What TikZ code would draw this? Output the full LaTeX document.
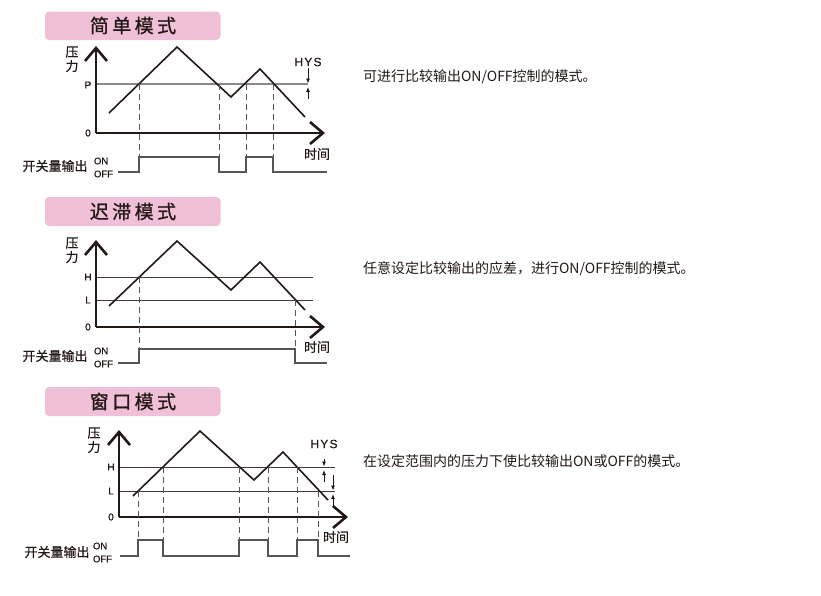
\documentclass[tikz,border=0pt]{standalone}
\usepackage{fontspec}
\setmainfont{Liberation Sans}
\newfontfamily\cjk{Noto Sans CJK SC}
\newfontfamily\cjkb[FakeBold=0.5]{Noto Sans CJK SC}
\newfontfamily\titlefont[LetterSpace=18,FakeBold=1]{Noto Sans CJK SC}
\newfontfamily\hysfont[LetterSpace=10,FakeBold=0.4]{Liberation Sans}
\newfontfamily\lblfont[FakeBold=0.6]{Liberation Sans}
\usetikzlibrary{arrows.meta}
\definecolor{ink}{HTML}{231815}
\definecolor{pinkbox}{HTML}{F0BFD8}
\definecolor{refgray}{HTML}{8A8A8A}
\definecolor{dashgray}{HTML}{555555}
\definecolor{siggray}{HTML}{555555}
\tikzset{
  every node/.style={inner sep=0pt, outer sep=0pt, text=ink},
  titlebox/.style={fill=pinkbox, rounded corners=4pt, draw=none},
  titletext/.style={font=\titlefont\fontsize{19}{21}\selectfont},
  axisline/.style={line width=2pt, draw=ink, -{Straight Barb[length=13pt,width=22pt,line width=2.6pt]}},
  wave/.style={line width=1.6pt, draw=ink, line join=miter},
  pline/.style={line width=1.3pt, draw=refgray},
  hlline/.style={line width=0.9pt, draw=ink!85},
  dashline/.style={line width=1pt, draw=dashgray, dash pattern=on 6pt off 4pt},
  sigline/.style={line width=1.3pt, draw=siggray},
  lvl/.style={font=\lblfont\fontsize{10}{11}\selectfont},
  cjklabel/.style={font=\cjkb\fontsize{13}{14}\selectfont},
  onoff/.style={font=\lblfont\fontsize{9.5}{10}\selectfont, anchor=west},
  desc/.style={font=\cjk\fontsize{14}{16}\selectfont, anchor=west},
  hys/.style={font=\hysfont\fontsize{12}{13}\selectfont},
  hysarrow/.style={line width=0.8pt, draw=ink, -{Latex[length=5pt,width=4pt]}}
}
\begin{document}
\begin{tikzpicture}[x=1pt,y=-1pt]
\useasboundingbox (0,0) rectangle (821,595);

% ================= Panel 1 =================
\path[titlebox] (45,11.5) rectangle (220.5,40);
\node[titletext] (t1) at (133,25.5) {简单模式};

\coordinate (o1) at (96,133);
\coordinate (ya1) at (96,46);
\coordinate (xa1) at (325,133);
\draw[pline] (96,84) -- (308,84);
\draw[axisline] (o1) -- (ya1);
\draw[axisline] (o1) -- (xa1);

\coordinate (a1) at (109,113);
\coordinate (b1) at (177,47);
\coordinate (c1) at (231,97);
\coordinate (d1) at (260,69);
\coordinate (e1) at (305,117);
\draw[wave] (a1) -- (b1) -- (c1) -- (d1) -- (e1);

\node[lvl] (p1) at (88,85) {P};
\node[lvl] (z1) at (88,133) {0};
\node[cjklabel] (ya1a) at (72,52) {压};
\node[cjklabel] (ya1b) at (72,66) {力};
\node[cjklabel] (tm1) at (317,154) {时间};
\node[cjklabel] (out1) at (55,166) {开关量输出};
\node[onoff] (on1) at (94,161) {ON};
\node[onoff] (off1) at (94,174) {OFF};
\node[hys] (hys1) at (308,62) {HYS};

\foreach \x in {139,219,246,273} \draw[dashline] (\x,84) -- (\x,157);
\draw[sigline] (118,172) -- (139,172) -- (139,157) -- (219,157) -- (219,172)
  -- (246,172) -- (246,157) -- (273,157) -- (273,172) -- (327,172);

\coordinate (h1t) at (308,68);
\coordinate (h1a) at (308,83.5);
\coordinate (h1b) at (308,87);
\coordinate (h1d) at (308,99);
\draw[hysarrow] (h1t) -- (h1a);
\draw[hysarrow] (h1d) -- (h1b);

\node[desc] (d1txt) at (363,77) {可进行比较输出ON/OFF控制的模式。};

% ================= Panel 2 =================
\path[titlebox] (45,197) rectangle (220.5,226);
\node[titletext] (t2) at (133,211.5) {迟滞模式};

\coordinate (o2) at (96,327);
\coordinate (ya2) at (96,240);
\coordinate (xa2) at (325,327);
\draw[hlline] (96,277) -- (313,277);
\draw[hlline] (96,300) -- (313,300);
\draw[axisline] (o2) -- (ya2);
\draw[axisline] (o2) -- (xa2);

\coordinate (a2) at (109,306);
\coordinate (b2) at (177,241);
\coordinate (c2) at (231,290);
\coordinate (d2) at (260,262);
\coordinate (e2) at (305,310);
\draw[wave] (a2) -- (b2) -- (c2) -- (d2) -- (e2);

\node[lvl] (hl2) at (88,277) {H};
\node[lvl] (ll2) at (88,300) {L};
\node[lvl] (z2) at (88,327) {0};
\node[cjklabel] (ya2a) at (72,243) {压};
\node[cjklabel] (ya2b) at (72,257) {力};
\node[cjklabel] (tm2) at (317,347) {时间};
\node[cjklabel] (out2) at (55,356) {开关量输出};
\node[onoff] (on2) at (94,351) {ON};
\node[onoff] (off2) at (94,364) {OFF};

\draw[dashline] (139,277) -- (139,349);
\draw[dashline] (295,300) -- (295,349);
\draw[sigline] (118,363) -- (139,363) -- (139,349) -- (295,349) -- (295,363) -- (327,363);

\node[desc] (d2txt) at (363,269) {任意设定比较输出的应差，进行ON/OFF控制的模式。};

% ================= Panel 3 =================
\path[titlebox] (45,387) rectangle (220.5,416);
\node[titletext] (t3) at (133,401.5) {窗口模式};

\coordinate (o3) at (119,517);
\coordinate (ya3) at (119,430);
\coordinate (xa3) at (348,517);
\draw[hlline] (119,467) -- (335,467);
\draw[hlline] (119,491) -- (335,491);
\draw[axisline] (o3) -- (ya3);
\draw[axisline] (o3) -- (xa3);

\coordinate (a3) at (133,496);
\coordinate (b3) at (200,431);
\coordinate (c3) at (254,480);
\coordinate (d3) at (283,452);
\coordinate (e3) at (328,500);
\draw[wave] (a3) -- (b3) -- (c3) -- (d3) -- (e3);

\node[lvl] (hl3) at (111,467) {H};
\node[lvl] (ll3) at (111,491) {L};
\node[lvl] (z3) at (111,517) {0};
\node[cjklabel] (ya3a) at (94,433) {压};
\node[cjklabel] (ya3b) at (94,447) {力};
\node[cjklabel] (tm3) at (336,537) {时间};
\node[cjklabel] (out3) at (57,552) {开关量输出};
\node[onoff] (on3) at (93,546) {ON};
\node[onoff] (off3) at (93,559) {OFF};
\node[hys] (hys3) at (324,444) {HYS};

\draw[dashline] (138,491) -- (138,540);
\foreach \x in {163,239,268,297} \draw[dashline] (\x,467) -- (\x,540);
\draw[dashline] (318,491) -- (318,540);
\draw[sigline] (120,556) -- (138,556) -- (138,540) -- (163,540) -- (163,556)
  -- (239,556) -- (239,540) -- (268,540) -- (268,556) -- (297,556) -- (297,540)
  -- (318,540) -- (318,556) -- (350,556);

\coordinate (h3t) at (324,459);
\coordinate (h3a) at (324,466.5);
\coordinate (h3b) at (324,470);
\coordinate (h3d) at (324,482);
\draw[hysarrow] (h3t) -- (h3a);
\draw[hysarrow] (h3d) -- (h3b);
\coordinate (h4t) at (333,475);
\coordinate (h4a) at (333,490.5);
\coordinate (h4b) at (333,494);
\coordinate (h4d) at (333,506);
\draw[hysarrow] (h4t) -- (h4a);
\draw[hysarrow] (h4d) -- (h4b);

\node[desc] (d3txt) at (363,461) {在设定范围内的压力下使比较输出ON或OFF的模式。};
\end{tikzpicture}
\end{document}
